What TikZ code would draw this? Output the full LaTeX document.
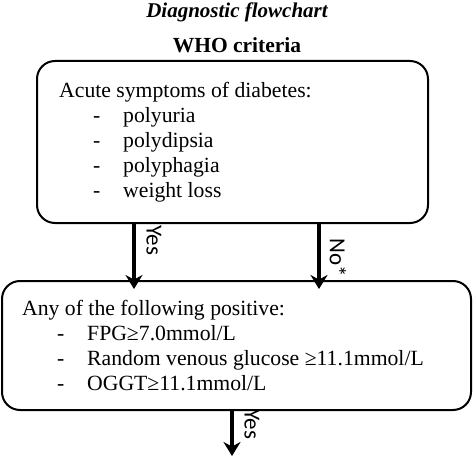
\documentclass[tikz,border=0pt]{standalone}
\usepackage{fontspec}
\setmainfont{Liberation Serif}
\newfontfamily\lblfont{Carlito}
\usetikzlibrary{arrows.meta}
\tikzset{
    critbox/.style={rectangle, draw=black, line width=2pt, rounded corners=18pt,
                    minimum width=#1, inner sep=0pt},
    headtxt/.style={anchor=base, font=\fontsize{21.5}{24}\selectfont\bfseries},
    boxtxt/.style={anchor=base west, inner sep=0pt, font=\fontsize{21.7}{25}\selectfont},
    arr/.style={-{Stealth[length=14pt,width=17pt]}, line width=3.6pt},
    yn/.style={rotate=-90, inner sep=0pt, font=\lblfont\fontsize{23}{25}\selectfont},
}

\begin{document}
\begin{tikzpicture}[x=1pt, y=-1pt]
    \useasboundingbox (0,0) rectangle (474,460);

    % headings
    \node[headtxt, font=\fontsize{21}{24}\selectfont\bfseries\itshape] (title) at (237,18) {Diagnostic flowchart};
    \node[headtxt] (who) at (237,53) {WHO criteria};

    % first question
    \node[critbox=391pt, minimum height=162pt] (symp) at (232.5,142) {};
    \node[boxtxt] (sympt) at (59,97) {Acute symptoms of diabetes:};
    \foreach \txt [count=\i] in {polyuria, polydipsia, polyphagia, weight loss} {
        \node[boxtxt] (sd\i) at (93,97+25*\i) {-};
        \node[boxtxt] (s\i) at (123,97+25*\i) {\txt};
    }

    % second question
    \node[critbox=469pt, minimum height=129pt] (crit) at (236.5,345.5) {};
    \node[boxtxt] (critt) at (22,315) {Any of the following positive:};
    \foreach \txt [count=\i] in {FPG≥7.0mmol/L, Random venous glucose ≥11.1mmol/L, OGGT≥11.1mmol/L} {
        \node[boxtxt] (cd\i) at (57,315+25*\i) {-};
        \node[boxtxt] (c\i) at (87,315+25*\i) {\txt};
    }

    % connectors
    \coordinate (next) at (232,456);
    \draw[arr] ([xshift=-98.5pt]symp.south) -- ([xshift=-102.5pt,yshift=-9pt]crit.north);
    \draw[arr] ([xshift=86.5pt]symp.south) -- ([xshift=82.5pt,yshift=-9pt]crit.north);
    \draw[arr] ([xshift=-4.5pt]crit.south) -- (next);
    \node[yn] (yes1) at (154,240) {Yes};
    \node[yn] (no1) at (338,258) {No*};
    \node[yn] (yes2) at (252,424) {Yes};
\end{tikzpicture}
\end{document}
